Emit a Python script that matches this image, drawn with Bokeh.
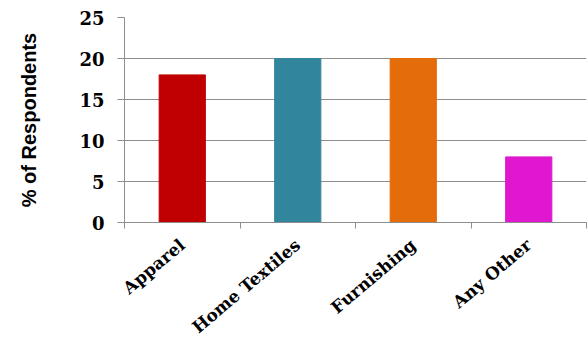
from bokeh.plotting import figure
from bokeh.models import Range1d, LinearAxis, FixedTicker, ColumnDataSource
from bokeh.embed import file_html
from bokeh.resources import INLINE

# Survey data: share of respondents per product segment
categories = ["Apparel", "Home Textiles", "Furnishing", "Any Other"]
percent = [18, 20, 20, 8]
bar_colors = ["#C00000", "#31859C", "#E46C0A", "#DF17CF"]
y_ticks = [0, 5, 10, 15, 20, 25]

GRID = "#8E8E8E"

# each category occupies one unit slot; bars sit at slot centres
n = len(categories)
centres = [i + 0.5 for i in range(n)]
edges = list(range(n + 1))

source = ColumnDataSource(dict(x=centres, val=percent, color=bar_colors))

p = figure(width=587, height=347, output_backend="svg", toolbar_location=None,
           x_range=Range1d(0, n), y_range=Range1d(0, 25),
           x_axis_location=None, y_axis_location="left",
           min_border_left=124, min_border_right=1, min_border_top=17,
           min_border_bottom=125)
p.outline_line_color = None
p.background_fill_color = "white"
p.border_fill_color = "white"

p.vbar(x="x", top="val", width=0.4, color="color", source=source)

# y axis
yax = p.yaxis[0]
yax.ticker = FixedTicker(ticks=y_ticks)
yax.axis_line_color = GRID
yax.major_tick_line_color = GRID
yax.major_tick_out = 7
yax.major_tick_in = 0
yax.minor_tick_line_color = None
yax.major_label_text_font = "DejaVu Serif"
yax.major_label_text_font_style = "bold"
yax.major_label_text_font_size = "18px"
yax.major_label_text_color = "black"
yax.major_label_standoff = 13
yax.axis_label = "% of Respondents"
yax.axis_label_text_font = "Liberation Sans"
yax.axis_label_text_font_style = "bold"
yax.axis_label_text_font_size = "20px"
yax.axis_label_text_color = "black"
yax.axis_label_standoff = 36

p.ygrid.ticker = FixedTicker(ticks=y_ticks)
p.ygrid.grid_line_color = GRID
p.xgrid.grid_line_color = None

# category names at slot centres; short tick marks at slot boundaries
cat_axis = LinearAxis(ticker=FixedTicker(ticks=centres, minor_ticks=edges))
cat_axis.major_label_overrides = dict(zip(centres, categories))
cat_axis.axis_line_color = GRID
cat_axis.major_tick_line_color = None
cat_axis.major_tick_out = 0
cat_axis.major_tick_in = 0
cat_axis.minor_tick_line_color = GRID
cat_axis.minor_tick_out = 6
cat_axis.minor_tick_in = 0
cat_axis.major_label_orientation = 0.7
cat_axis.major_label_text_font = "DejaVu Serif"
cat_axis.major_label_text_font_style = "bold"
cat_axis.major_label_text_font_size = "17px"
cat_axis.major_label_text_color = "black"
cat_axis.major_label_standoff = 14
p.add_layout(cat_axis, "below")

open("out.html", "w").write(file_html(p, INLINE))
